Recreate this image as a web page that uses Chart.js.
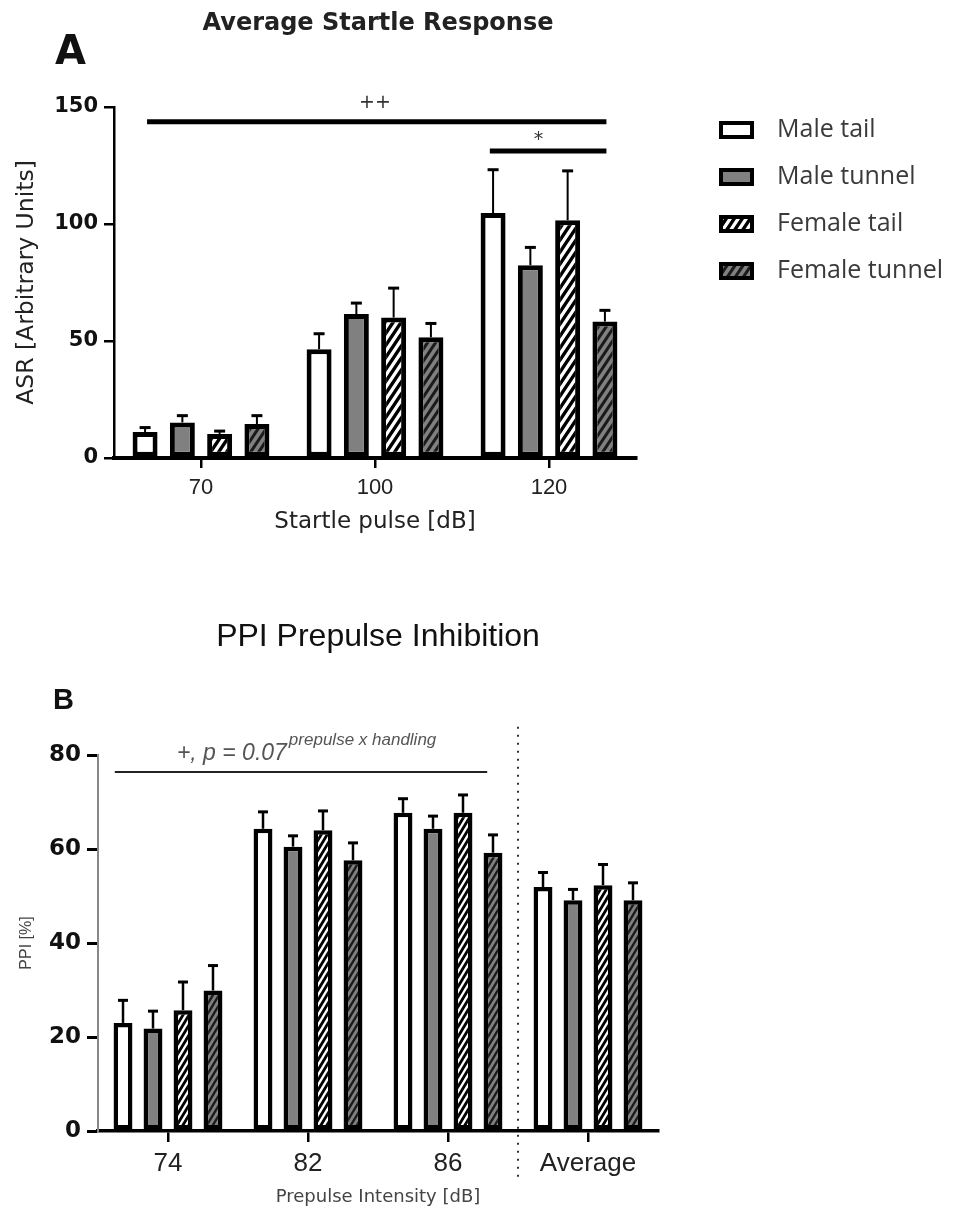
<!DOCTYPE html>
<html><head><meta charset="utf-8">
<script src="https://cdn.jsdelivr.net/npm/chart.js@4.4.0/dist/chart.umd.min.js"></script>
<style>
html,body{margin:0;padding:0;background:#fff;}
#wrap{position:relative;width:957px;height:1209px;overflow:hidden;background:#fff;}
#cA{position:absolute;left:0;top:0;}
#cB{position:absolute;left:0;top:600px;}
</style></head><body>
<div id="wrap">
<canvas id="cA" width="957" height="560"></canvas>
<canvas id="cB" width="957" height="609"></canvas>
</div>
<script>
// ---------- data ----------
const seriesNames = ['Male tail', 'Male tunnel', 'Female tail', 'Female tunnel'];

// Panel A: Average Startle Response
const startleCategories = ['70', '100', '120'];
const startleMaleTail = [11.1, 46.5, 104.7];
const startleMaleTailErr = [1.9, 6.6, 18.5];
const startleMaleTunnel = [15.2, 61.5, 82.4];
const startleMaleTunnelErr = [2.9, 4.7, 7.6];
const startleFemaleTail = [10.3, 60.0, 101.6];
const startleFemaleTailErr = [1.2, 12.6, 21.1];
const startleFemaleTunnel = [14.5, 51.6, 58.3];
const startleFemaleTunnelErr = [3.6, 5.9, 4.8];
const startleTicks = [0, 50, 100, 150];
// significance bars (category-index units, value units)
const startleSigFrom = [-0.31, 1.66];
const startleSigTo = [2.33, 2.33];
const startleSigLevel = [143.7, 131.2];
const startleSigLabel = ['++', '*'];
const startleSigLabelX = [1.0, 1.94];
const startleSigLabelLevel = [151.5, 136];

// Panel B: PPI Prepulse Inhibition
const ppiCategories = ['74', '82', '86', 'Average'];
const ppiMaleTail = [23.0, 64.3, 67.7, 51.9];
const ppiMaleTailErr = [4.8, 3.6, 3.0, 3.1];
const ppiMaleTunnel = [21.8, 60.5, 64.3, 49.1];
const ppiMaleTunnelErr = [3.7, 2.3, 2.7, 2.3];
const ppiFemaleTail = [25.7, 64.0, 67.7, 52.3];
const ppiFemaleTailErr = [6.0, 4.1, 3.8, 4.4];
const ppiFemaleTunnel = [29.9, 57.6, 59.2, 49.1];
const ppiFemaleTunnelErr = [5.3, 3.7, 3.8, 3.7];
const ppiTicks = [0, 20, 40, 60, 80];
const ppiNoteMain = '+, p = 0.07';
const ppiNoteSup = 'prepulse x handling';
const ppiNoteX = 0.99;
const ppiNoteLevel = 78.9;
const ppiNoteSupLevel = 82.1;
const ppiNoteLineFrom = -0.38;
const ppiNoteLineTo = 2.28;
const ppiNoteLineLevel = 76.4;
const ppiDividerAt = 2.5;
const ppiDividerTop = 86;

// ---------- styles ----------
function hatch(bg, stripe, w, h, lw) {
  const c = document.createElement('canvas');
  c.width = w; c.height = h;
  const g = c.getContext('2d');
  g.fillStyle = bg; g.fillRect(0, 0, w, h);
  g.strokeStyle = stripe; g.lineWidth = lw; g.lineCap = 'square';
  g.beginPath();
  for (let k = 0; k <= 2; k++) {
    g.moveTo(k * w, 0); g.lineTo((k - 1) * w, h);
  }
  g.stroke();
  return g.createPattern(c, 'repeat');
}
const GRAY = '#808080';
const fillsA = ['#ffffff', GRAY, hatch('#ffffff', '#000000', 8, 12, 3.4), hatch(GRAY, '#1a1a1a', 8, 12, 3.0)];
const fillsB = ['#ffffff', GRAY, hatch('#ffffff', '#000000', 6, 10, 2.8), hatch(GRAY, '#1a1a1a', 6, 10, 2.4)];

function catPx(scale, idx) {
  const p0 = scale.getPixelForValue(0), p1 = scale.getPixelForValue(1);
  return p0 + idx * (p1 - p0);
}

const errorBars = {
  id: 'errorBars',
  afterDatasetsDraw(chart, args, o) {
    const ctx = chart.ctx, ys = chart.scales.y;
    chart.data.datasets.forEach((ds, i) => {
      const meta = chart.getDatasetMeta(i);
      meta.data.forEach((bar, j) => {
        const v = ds.data[j], e = ds.errors[j];
        const yTop = ys.getPixelForValue(v + e);
        const yBar = ys.getPixelForValue(v);
        ctx.save();
        ctx.strokeStyle = '#000';
        ctx.lineWidth = o.lw;
        ctx.beginPath(); ctx.moveTo(bar.x, yBar); ctx.lineTo(bar.x, yTop); ctx.stroke();
        ctx.lineWidth = o.capLw;
        ctx.beginPath(); ctx.moveTo(bar.x - o.cap / 2, yTop); ctx.lineTo(bar.x + o.cap / 2, yTop); ctx.stroke();
        ctx.restore();
      });
    });
  }
};

function mkDatasets(vals, errs, fl, bw) {
  return vals.map((v, i) => ({
    label: seriesNames[i], data: v, errors: errs[i],
    backgroundColor: fl[i], borderColor: '#000', borderWidth: bw, borderSkipped: false
  }));
}

// ---------- Panel A ----------
const panelA = {
  id: 'panelA',
  afterDraw(chart) {
    const ctx = chart.ctx, xs = chart.scales.x, ys = chart.scales.y;
    ctx.save();
    ctx.fillStyle = '#222';
    ctx.font = 'bold 24px "DejaVu Sans"';
    ctx.textAlign = 'center'; ctx.textBaseline = 'alphabetic';
    ctx.fillText('Average Startle Response', 378, 30);
    ctx.fillStyle = '#111';
    ctx.font = 'bold 40px "DejaVu Sans"';
    ctx.textAlign = 'left';
    ctx.fillText('A', 55, 64);
    // significance bars
    ctx.strokeStyle = '#000'; ctx.lineWidth = 5; ctx.lineCap = 'butt';
    for (let k = 0; k < startleSigLevel.length; k++) {
      const y = ys.getPixelForValue(startleSigLevel[k]);
      ctx.beginPath();
      ctx.moveTo(catPx(xs, startleSigFrom[k]), y);
      ctx.lineTo(catPx(xs, startleSigTo[k]), y);
      ctx.stroke();
      ctx.fillStyle = '#333';
      ctx.font = '19px "DejaVu Sans"';
      ctx.textAlign = 'center'; ctx.textBaseline = 'middle';
      ctx.fillText(startleSigLabel[k], catPx(xs, startleSigLabelX[k]), ys.getPixelForValue(startleSigLabelLevel[k]));
    }
    // legend
    const centers = [130, 177, 224, 271];
    for (let i = 0; i < seriesNames.length; i++) {
      const bx = 719, bw = 35, bh = 18, by = centers[i] - bh / 2;
      ctx.fillStyle = '#000'; ctx.fillRect(bx, by, bw, bh);
      ctx.fillStyle = fillsA[i]; ctx.fillRect(bx + 4, by + 4, bw - 8, bh - 8);
      ctx.fillStyle = '#3a3a3a';
      ctx.font = '25px "Open Sans"';
      ctx.textAlign = 'left'; ctx.textBaseline = 'middle';
      ctx.fillText(seriesNames[i], 777, centers[i]);
    }
    ctx.restore();
  }
};

new Chart(document.getElementById('cA'), {
  type: 'bar',
  data: {
    labels: startleCategories,
    datasets: mkDatasets(
      [startleMaleTail, startleMaleTunnel, startleFemaleTail, startleFemaleTunnel],
      [startleMaleTailErr, startleMaleTunnelErr, startleFemaleTailErr, startleFemaleTunnelErr],
      fillsA, 5)
  },
  options: {
    responsive: false, animation: false, devicePixelRatio: 1,
    categoryPercentage: 0.857, barPercentage: 0.67,
    layout: { padding: { left: 0, top: 107, right: 321, bottom: 0 } },
    plugins: { legend: { display: false }, tooltip: { enabled: false },
      errorBars: { lw: 2, capLw: 3, cap: 11 } },
    scales: {
      x: {
        offset: true,
        grid: { display: true, offset: false, drawOnChartArea: false, drawTicks: true, tickLength: 10, color: '#000', lineWidth: 2.5 },
        border: { display: true, color: '#000', width: 4 },
        ticks: { font: { family: 'Liberation Sans', size: 22 }, color: '#222', padding: 7, maxRotation: 0 },
        title: { display: true, text: 'Startle pulse [dB]', font: { family: 'DejaVu Sans', size: 23 }, color: '#222', padding: { top: 0, bottom: 24 } },
        afterFit(s) { s.height = 102; }
      },
      y: {
        min: 0, max: 150,
        afterBuildTicks(s) { s.ticks = startleTicks.map(v => ({ value: v })); },
        ticks: { font: { family: 'DejaVu Sans', size: 21, weight: 'bold' }, color: '#111', padding: 6 },
        grid: { display: true, drawOnChartArea: false, drawTicks: true, tickLength: 10, color: '#000', lineWidth: 2.5 },
        border: { display: true, color: '#000', width: 2.5 },
        title: { display: true, text: 'ASR [Arbitrary Units]', font: { family: 'DejaVu Sans', size: 23.5 }, color: '#222', padding: { top: 13, bottom: 0 } },
        afterFit(s) { s.width = 114; }
      }
    }
  },
  plugins: [errorBars, panelA]
});

// ---------- Panel B ----------
const panelB = {
  id: 'panelB',
  afterDraw(chart) {
    const ctx = chart.ctx, xs = chart.scales.x, ys = chart.scales.y;
    ctx.save();
    ctx.fillStyle = '#111';
    ctx.font = '32px "Liberation Sans"';
    ctx.textAlign = 'center'; ctx.textBaseline = 'alphabetic';
    ctx.fillText('PPI Prepulse Inhibition', 378, 46);
    ctx.font = 'bold 29px "Liberation Sans"';
    ctx.textAlign = 'left';
    ctx.fillText('B', 53, 109);
    // divider
    const dx = catPx(xs, ppiDividerAt);
    ctx.strokeStyle = '#333'; ctx.lineWidth = 2; ctx.setLineDash([2, 6]);
    ctx.beginPath(); ctx.moveTo(dx, ys.getPixelForValue(ppiDividerTop)); ctx.lineTo(dx, chart.chartArea.bottom + 51); ctx.stroke();
    ctx.setLineDash([]);
    // note line
    const ly = ys.getPixelForValue(ppiNoteLineLevel);
    ctx.strokeStyle = '#222'; ctx.lineWidth = 2;
    ctx.beginPath(); ctx.moveTo(catPx(xs, ppiNoteLineFrom), ly); ctx.lineTo(catPx(xs, ppiNoteLineTo), ly); ctx.stroke();
    // note text
    ctx.fillStyle = '#555';
    ctx.font = 'italic 23px "Liberation Sans"';
    const w1 = ctx.measureText(ppiNoteMain).width + 2;
    ctx.font = 'italic 17px "Liberation Sans"';
    const w2 = ctx.measureText(ppiNoteSup).width;
    const x0 = catPx(xs, ppiNoteX) - (w1 + w2) / 2;
    ctx.textAlign = 'left'; ctx.textBaseline = 'alphabetic';
    ctx.font = 'italic 23px "Liberation Sans"';
    ctx.fillText(ppiNoteMain, x0, ys.getPixelForValue(ppiNoteLevel));
    ctx.font = 'italic 17px "Liberation Sans"';
    ctx.fillText(ppiNoteSup, x0 + w1, ys.getPixelForValue(ppiNoteSupLevel));
    ctx.restore();
  }
};

new Chart(document.getElementById('cB'), {
  type: 'bar',
  data: {
    labels: ppiCategories,
    datasets: mkDatasets(
      [ppiMaleTail, ppiMaleTunnel, ppiFemaleTail, ppiFemaleTunnel],
      [ppiMaleTailErr, ppiMaleTunnelErr, ppiFemaleTailErr, ppiFemaleTunnelErr],
      fillsB, 4.5)
  },
  options: {
    responsive: false, animation: false, devicePixelRatio: 1,
    categoryPercentage: 0.857, barPercentage: 0.63,
    layout: { padding: { left: 0, top: 155, right: 299, bottom: 0 } },
    plugins: { legend: { display: false }, tooltip: { enabled: false },
      errorBars: { lw: 2.5, capLw: 3, cap: 10 } },
    scales: {
      x: {
        offset: true,
        grid: { display: true, offset: false, drawOnChartArea: false, drawTicks: true, tickLength: 11, color: '#000', lineWidth: 2.5 },
        border: { display: true, color: '#000', width: 3.5 },
        ticks: { font: { family: 'Liberation Sans', size: 26 }, color: '#222', padding: 6, maxRotation: 0 },
        title: { display: true, text: 'Prepulse Intensity [dB]', font: { family: 'DejaVu Sans', size: 18 }, color: '#444', padding: { top: 0, bottom: 1 } },
        afterFit(s) { s.height = 78; }
      },
      y: {
        min: 0, max: 80,
        afterBuildTicks(s) { s.ticks = ppiTicks.map(v => ({ value: v })); },
        ticks: { font: { family: 'DejaVu Sans', size: 23, weight: 'bold' }, color: '#111', padding: 6 },
        grid: { display: true, drawOnChartArea: false, drawTicks: true, tickLength: 11, color: '#000', lineWidth: 3 },
        border: { display: true, color: '#888', width: 2 },
        title: { display: true, text: 'PPI [%]', font: { family: 'Liberation Sans', size: 16 }, color: '#444', padding: { top: 17, bottom: 0 } },
        afterFit(s) { s.width = 98; }
      }
    }
  },
  plugins: [errorBars, panelB]
});
</script>
</body></html>
